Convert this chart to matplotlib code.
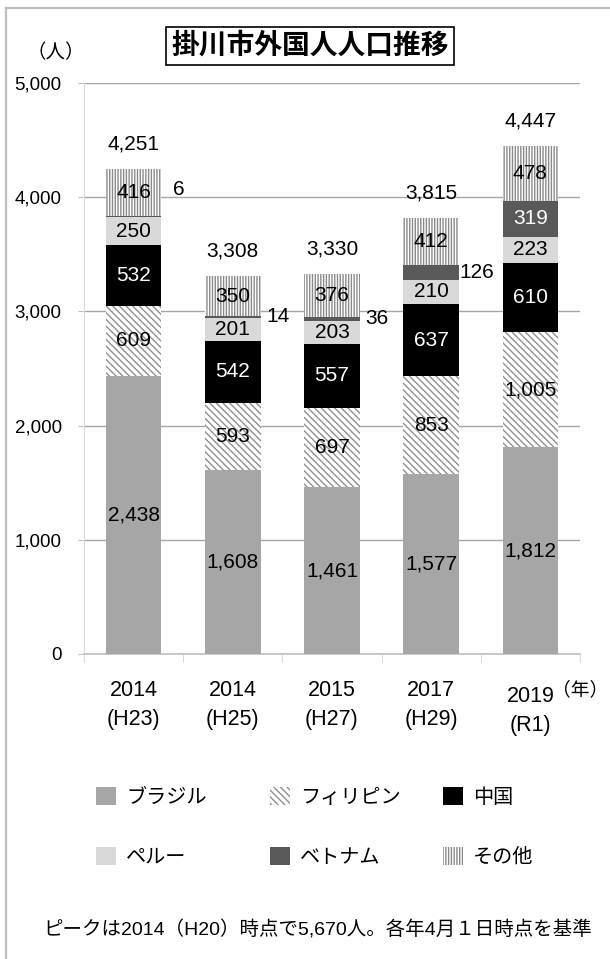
import numpy as np
import matplotlib
matplotlib.use('Agg')
import matplotlib.pyplot as plt
from matplotlib.lines import Line2D
from matplotlib.patches import Patch
from matplotlib.transforms import ScaledTranslation

plt.rcParams['font.family'] = ['Liberation Sans', 'Noto Sans CJK JP']
plt.rcParams['hatch.linewidth'] = 1.0

# survey years (as printed) and era labels
years = ['2014', '2014', '2015', '2017', '2019']
eras = ['(H23)', '(H25)', '(H27)', '(H29)', '(R1)']

# residents by nationality
brazil = [2438, 1608, 1461, 1577, 1812]
philippines = [609, 593, 697, 853, 1005]
china = [532, 542, 557, 637, 610]
peru = [250, 201, 203, 210, 223]
vietnam = [6, 14, 36, 126, 319]
others = [416, 350, 376, 412, 478]
totals = [4251, 3308, 3330, 3815, 4447]

# small Vietnam labels sit beside the bar; first one nudged up (points)
vn_label_dy = [19, 0, 0, 0, 0]

series = [
    ('ブラジル', brazil, dict(facecolor='#a6a6a6', edgecolor='#a6a6a6', linewidth=0), 'black'),
    ('フィリピン', philippines, dict(facecolor='white', edgecolor='#8f8f8f', hatch='\\\\\\\\\\', linewidth=0), 'black'),
    ('中国', china, dict(facecolor='black', edgecolor='black', linewidth=0), 'white'),
    ('ペルー', peru, dict(facecolor='#d9d9d9', edgecolor='#d9d9d9', linewidth=0), 'black'),
    ('ベトナム', vietnam, dict(facecolor='#595959', edgecolor='#595959', linewidth=0), 'white'),
    ('その他', others, dict(facecolor='white', edgecolor='#8a8a8a', hatch='||||||', linewidth=0), 'black'),
]

W, H = 610, 959
fig = plt.figure(figsize=(W / 100, H / 100), dpi=100)
ax = fig.add_axes([84 / W, 1 - 654 / H, (580 - 84) / W, (654 - 83) / H])

x = np.arange(len(years))
width = 0.56
bottom = np.zeros(len(years))
handles = []
for name, vals, style, txt_color in series:
    vals = np.array(vals, dtype=float)
    ax.bar(x, vals, width, bottom=bottom, zorder=3, **style)
    handles.append(Patch(label=name, **style))
    for i, v in enumerate(vals):
        yc = bottom[i] + v / 2
        label = f'{int(v):,}'
        if name == 'ベトナム' and v < 150:
            ax.annotate(label, (x[i] + width / 2, yc), xytext=(12.5, vn_label_dy[i]),
                        textcoords='offset points', ha='center', va='center',
                        fontsize=15, color='black', zorder=5)
        else:
            ax.text(x[i], yc, label, ha='center', va='center', fontsize=15,
                    color=txt_color, zorder=5)
    bottom += vals

for i, t in enumerate(totals):
    ax.annotate(f'{t:,}', (x[i], t), xytext=(0, 18), textcoords='offset points',
                ha='center', va='center', fontsize=15)

ax.set_xlim(-0.5, len(years) - 0.5)
ax.set_ylim(0, 5000)
ax.set_yticks(np.arange(0, 5001, 1000))
ax.set_yticklabels([f'{v:,}' for v in range(0, 5001, 1000)])
ax.yaxis.grid(True, color='#a6a6a6', linewidth=1.0, zorder=0)
ax.set_axisbelow(True)
ax.tick_params(axis='y', length=4, color='#bfbfbf', pad=12, labelsize=13.5)

ax.set_xticks(x)
ax.set_xticklabels([f'{y}\n{e}' for y, e in zip(years, eras)], linespacing=1.5)
ax.set_xticks(np.arange(-0.5, len(years)), minor=True)
ax.tick_params(axis='x', which='major', length=0, pad=19, labelsize=15.5)
ax.tick_params(axis='x', which='minor', length=6, color='#d0d0d0')
last = ax.get_xticklabels()[-1]
last.set_transform(last.get_transform() + ScaledTranslation(0, -4 / 72, fig.dpi_scale_trans))

for s in ('top', 'right'):
    ax.spines[s].set_visible(False)
ax.spines['left'].set_color('#d9d9d9')
ax.spines['bottom'].set_color('#bfbfbf')
ax.spines['bottom'].set_linewidth(1.2)

fig.text(56 / W, 1 - 53 / H, '（人）', ha='center', va='center', fontsize=14)
fig.text(580 / W, 1 - 690 / H, '（年）', ha='center', va='center', fontsize=13.5)

fig.text(310 / W, 1 - 46 / H, '掛川市外国人人口推移', ha='center', va='center',
         fontsize=20, fontweight='bold',
         bbox=dict(boxstyle='square,pad=0.2', facecolor='white', edgecolor='black', linewidth=1.2))

# legend laid out as a 3x2 grid of single entries
leg_x = [96, 270, 443]
leg_y = [797, 857]
for k, h in enumerate(handles):
    r, c = divmod(k, 3)
    fig.legend([h], [h.get_label()], loc='center left',
               bbox_to_anchor=(leg_x[c] / W, 1 - leg_y[r] / H),
               frameon=False, fontsize=14.5, borderpad=0, borderaxespad=0,
               handlelength=1.0, handleheight=1.0, handletextpad=0.5)

fig.text(318 / W, 1 - 930 / H, 'ピークは2014（H20）時点で5,670人。各年4月１日時点を基準',
         ha='center', va='center', fontsize=14)

# outer frame (top and left edges)
fig.add_artist(Line2D([6 / W, 1], [1 - 8 / H, 1 - 8 / H], color='#bfbfbf', linewidth=1.6,
                      transform=fig.transFigure))
fig.add_artist(Line2D([6 / W, 6 / W], [0, 1 - 8 / H], color='#bfbfbf', linewidth=1.6,
                      transform=fig.transFigure))

fig.savefig('out.png', dpi=100)
